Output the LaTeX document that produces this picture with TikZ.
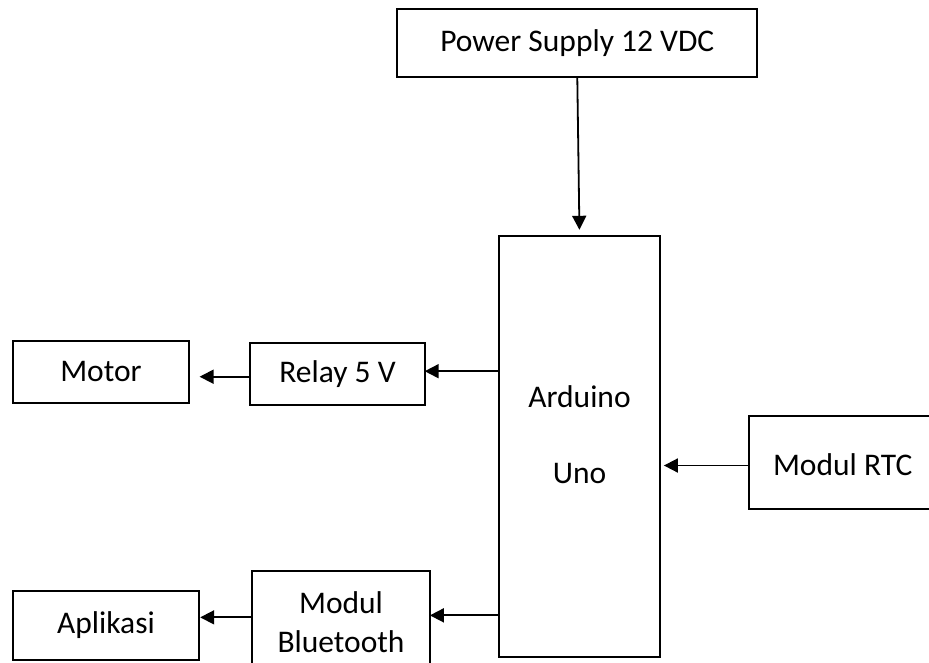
\documentclass[tikz,border=0pt]{standalone}
\usepackage{fontspec}
\setmainfont{Carlito}
\usetikzlibrary{arrows.meta,calc}
\begin{document}
\begin{tikzpicture}[x=1pt,y=-1pt,
  blk/.style={draw=black,line width=1.8pt,rectangle,inner sep=0pt,anchor=center,font=\fontsize{31.5}{36}\selectfont,align=center},
  lbl/.style={inner sep=0pt,font=\fontsize{31.5}{36}\selectfont,anchor=center},
  arr/.style={line width=1.8pt,-{Triangle[length=14pt,width=14pt]}}]
\clip (0,0) rectangle (929,662);
\fill[white] (0,0) rectangle (929,662);
\node[blk,minimum width=360pt,minimum height=68pt] (ps) at (577.3,43.3) {Power Supply 12 VDC};
\node[blk,minimum width=161pt,minimum height=421pt] (ard) at (579.5,446.2) {};
\node[lbl] (ard1) at (579.5,396.7) {Arduino};
\node[lbl] (ard2) at (579.5,473.3) {Uno};
\node[blk,minimum width=175.6pt,minimum height=62.3pt] (relay) at (337.5,374.2) {Relay 5 V};
\node[blk,minimum width=175.4pt,minimum height=62.6pt] (motor) at (101,372) {Motor};
\node[blk,minimum width=178.3pt,minimum height=109.3pt] (bt) at (340.85,625.35) {};
\node[lbl] (bt1) at (341,603) {Modul};
\node[lbl] (bt2) at (341,641.7) {Bluetooth};
\node[blk,minimum width=186.6pt,minimum height=69.3pt] (apl) at (106,625.3) {Aplikasi};
\node[blk,minimum width=190pt,minimum height=93pt] (rtc) at (844.3,462.5) {};
\node[lbl] (rtc1) at (842.7,465) {Modul RTC};
\draw[arr,shorten >=5pt] (ps.south) -- (ard.north);
\draw[arr,shorten >=-1.5pt] ([yshift=3pt]relay.east -| ard.west) -- ([yshift=3pt]relay.east);
\draw[arr,shorten >=10pt] ([yshift=-2.5pt]relay.west) -- ([yshift=-2.5pt]relay.west -| motor.east);
\draw[arr,shorten >=-1pt] ([yshift=10pt]bt.east -| ard.west) -- ([yshift=10pt]bt.east);
\draw[arr,shorten >=0pt] ([yshift=8pt]bt.west) -- ([yshift=8pt]bt.west -| apl.east);
\draw[arr,shorten >=3pt] ([yshift=-3pt]rtc.west) -- ([yshift=-3pt]rtc.west -| ard.east);
\end{tikzpicture}
\end{document}
